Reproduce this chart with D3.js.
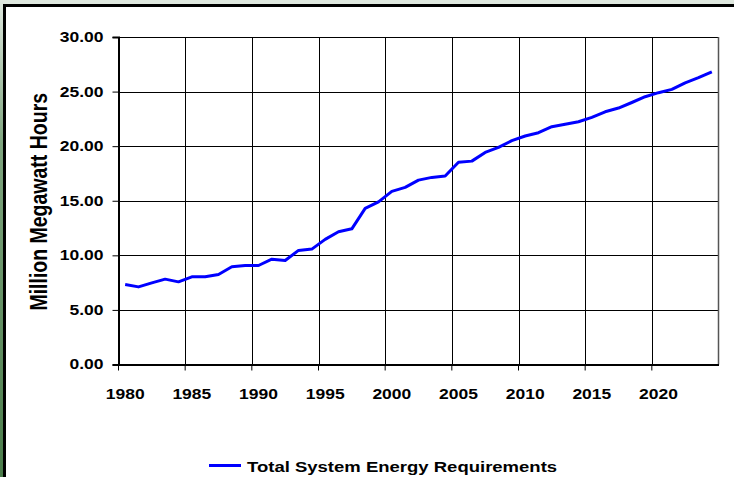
<!DOCTYPE html>
<html>
<head>
<meta charset="utf-8">
<script src="https://cdn.jsdelivr.net/npm/d3@7"></script>
<style>
  html, body { margin: 0; padding: 0; background: #fff; }
  svg { display: block; }
  text { font-family: "Liberation Sans", Arial, sans-serif; font-weight: bold; fill: #000; }
</style>
</head>
<body>
<svg id="chart" width="734" height="477"></svg>
<script>
const years = [1980,1981,1982,1983,1984,1985,1986,1987,1988,1989,
               1990,1991,1992,1993,1994,1995,1996,1997,1998,1999,
               2000,2001,2002,2003,2004,2005,2006,2007,2008,2009,
               2010,2011,2012,2013,2014,2015,2016,2017,2018,2019,
               2020,2021,2022,2023,2024];
const energy = [7.33,7.11,7.48,7.82,7.57,8.03,8.03,8.25,8.95,9.07,
                9.07,9.65,9.53,10.45,10.57,11.46,12.16,12.43,14.3,14.9,
                15.86,16.22,16.89,17.14,17.26,18.52,18.63,19.43,19.89,20.5,
                20.93,21.23,21.78,22.0,22.24,22.64,23.15,23.49,24.0,24.53,
                24.9,25.2,25.8,26.27,26.8];
const xTickYears = [1980,1985,1990,1995,2000,2005,2010,2015,2020];
const yTicks = [0,5,10,15,20,25,30];
const seriesName = "Total System Energy Requirements";
const yTitle = "Million Megawatt Hours";

const svg = d3.select("#chart");
const W = 734, H = 477;
const SX = 1.25; // horizontal stretch of the original text rendering
const FONT = '"Liberation Sans", Arial, sans-serif';

// background / frame
const defs = svg.append("defs");
const g1 = defs.append("linearGradient").attr("id","leftGrad").attr("x1",0).attr("y1",0).attr("x2",0).attr("y2",1);
g1.append("stop").attr("offset","0%").attr("stop-color","#dfe8df");
g1.append("stop").attr("offset","30%").attr("stop-color","#7fa57f");
g1.append("stop").attr("offset","100%").attr("stop-color","#4b7d4b");
svg.append("rect").attr("x",0).attr("y",0).attr("width",W).attr("height",H).attr("fill","#dfe8df");
svg.append("rect").attr("x",0).attr("y",0).attr("width",4).attr("height",H).attr("fill","url(#leftGrad)");
svg.append("rect").attr("x",4.5).attr("y",5.5).attr("width",W+20).attr("height",H+20)
  .attr("fill","#fff").attr("stroke","#000").attr("stroke-width",3);

const L = 118.5, R = 718.5, T = 37, B = 364.5;

const x = d3.scaleBand().domain(years).range([L, R]).padding(0);
const y = d3.scaleLinear().domain([0, 30]).range([B, T]);
const bw = x.bandwidth();

// horizontal gridlines
svg.append("g").selectAll("line").data(yTicks.filter(d => d > 0)).join("line")
  .attr("x1", L).attr("x2", R)
  .attr("y1", d => Math.round(y(d)) + 0.5).attr("y2", d => Math.round(y(d)) + 0.5)
  .attr("stroke", "#000").attr("stroke-width", 1);

// vertical gridlines at category boundaries
svg.append("g").selectAll("line").data(xTickYears.slice(1)).join("line")
  .attr("x1", d => Math.round(x(d)) + 0.5).attr("x2", d => Math.round(x(d)) + 0.5)
  .attr("y1", T).attr("y2", B)
  .attr("stroke", "#000").attr("stroke-width", 1);

// right border of plot area
svg.append("line").attr("x1", R).attr("x2", R).attr("y1", T).attr("y2", B)
  .attr("stroke", "#555").attr("stroke-width", 1.5);

// y axis
const yAxis = svg.append("g").attr("transform", `translate(${L},0)`)
  .call(d3.axisLeft(y).tickValues(yTicks).tickFormat(d3.format(".2f")).tickSize(6).tickPadding(8));
yAxis.select(".domain").attr("stroke", "#000").attr("stroke-width", 2);
yAxis.selectAll(".tick line").attr("stroke", "#000");
yAxis.selectAll(".tick text")
  .attr("x", 0).attr("transform", `translate(-15,0) scale(${SX},1)`)
  .attr("font-size", "14px").attr("font-family", FONT).attr("font-weight", "bold");

// x axis
const xAxis = svg.append("g").attr("transform", `translate(0,${B})`)
  .call(d3.axisBottom(x).tickValues(xTickYears).tickSize(6).tickPadding(0).tickSizeOuter(0));
xAxis.select(".domain").attr("stroke", "#000").attr("stroke-width", 2);
xAxis.selectAll(".tick line").attr("stroke", "#000").attr("transform", `translate(${-bw/2},0)`);
xAxis.selectAll(".tick text").attr("y", 0).attr("dy", 0)
  .attr("transform", `translate(0,34.5) scale(${SX},1)`)
  .attr("font-size", "14px").attr("font-family", FONT).attr("font-weight", "bold");

// line
const line = d3.line().x((d, i) => x(years[i]) + bw / 2).y(d => y(d));
svg.append("path").datum(energy).attr("d", line)
  .attr("fill", "none").attr("stroke", "#0000ff").attr("stroke-width", 3).attr("stroke-linejoin", "round");

// y title
svg.append("text").attr("transform", `translate(47,${(T + B) / 2 + 1}) scale(${SX},1) rotate(-90)`)
  .attr("text-anchor", "middle").attr("font-size", "19.5px").text(yTitle);

// legend
const legend = svg.append("g").attr("transform", "translate(209,465.5)");
legend.append("line").attr("x1", 0).attr("x2", 32).attr("y1", 0).attr("y2", 0)
  .attr("stroke", "#0000ff").attr("stroke-width", 3);
legend.append("text").attr("transform", `translate(38,6) scale(${SX},1)`)
  .attr("font-size", "14.8px").text(seriesName);
</script>
</body>
</html>
